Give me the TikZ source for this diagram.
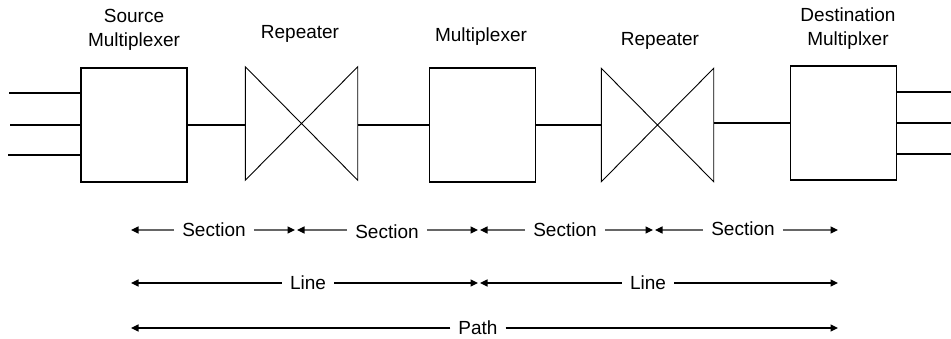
\documentclass[tikz,border=0pt]{standalone}
\usepackage{fontspec}
\setmainfont{Liberation Sans}
\usetikzlibrary{arrows.meta}
\begin{document}
\begin{tikzpicture}[x=1pt,y=-1pt,
  every node/.style={font=\fontsize{19}{24}\selectfont, inner sep=0pt},
  muxbox/.style={draw, line width=1.5pt, minimum width=106pt, minimum height=114pt},
  repbox/.style={minimum width=112pt, minimum height=113pt},
  wire/.style={line width=1.5pt},
  thinline/.style={line width=0.9pt},
  label/.style={align=center},
  span/.style={inner xsep=8pt, inner ysep=2pt},
  tip/.style={-{Triangle[length=7.5pt,width=7pt,color=black]}},
  secarrow/.style={tip, line width=1.1pt, draw=black!60},
  lenarrow/.style={tip, line width=1.1pt}]
  \useasboundingbox (0,0) rectangle (951,339);

  % equipment
  \node[muxbox] (src) at (134,125) {};
  \node[repbox] (rep1) at (301.5,123.5) {};
  \node[muxbox] (mux) at (482.5,125) {};
  \node[repbox] (rep2) at (657.5,125) {};
  \node[muxbox] (dst) at (843.5,123) {};

  % repeater bow-ties
  \foreach \r in {rep1,rep2}
    \draw[thinline] (\r.north west) -- (\r.south east) -- (\r.north east)
      -- (\r.south west) -- cycle;

  % tributaries in and out
  \coordinate (in1) at (9,93);
  \coordinate (in2) at (10,125);
  \coordinate (in3) at (8,155);
  \coordinate (out1) at (951,92);
  \coordinate (out2) at (951,123);
  \coordinate (out3) at (951,154);
  \foreach \c in {in1,in2,in3} \draw[wire] (\c) -- (\c -| src.west);
  \foreach \c in {out1,out2,out3} \draw[wire] (\c) -- (\c -| dst.east);

  % trunk connections
  \draw[wire] (src.east) -- (src.east -| rep1.west);
  \draw[wire] (rep1.east |- src.east) -- (mux.west);
  \draw[wire] (mux.east) -- (mux.east -| rep2.west);
  \draw[wire] (rep2.east |- dst.west) -- (dst.west);

  % labels
  \node[label] (lsrc) at (134,30) {Source\\Multiplexer};
  \node[label] (lrep1) at (300,34) {Repeater};
  \node[label] (lmux) at (481,37) {Multiplexer};
  \node[label] (lrep2) at (660,41) {Repeater};
  \node[label] (ldst) at (848,29) {Destination\\Multiplxer};

  % span end points
  \coordinate (s0) at (131,230);
  \coordinate (s1a) at (295,230);
  \coordinate (s1b) at (297,230);
  \coordinate (s2a) at (478,230);
  \coordinate (s2b) at (480,230);
  \coordinate (s3a) at (653,230);
  \coordinate (s3b) at (655,230);
  \coordinate (s4) at (838,230);
  \coordinate (l0) at (131,283);
  \coordinate (l1a) at (478,283);
  \coordinate (l1b) at (480,283);
  \coordinate (l2) at (838,283);
  \coordinate (p0) at (131,328);
  \coordinate (p1) at (838,328);

  % sections
  \node[span] (sec1) at (214,230) {Section};
  \node[span] (sec2) at (387,232) {Section};
  \node[span] (sec3) at (565,230) {Section};
  \node[span] (sec4) at (743,229) {Section};
  \draw[secarrow] (sec1.west |- s0) -- (s0);
  \draw[secarrow] (sec1.east |- s0) -- (s1a);
  \draw[secarrow] (sec2.west |- s0) -- (s1b);
  \draw[secarrow] (sec2.east |- s0) -- (s2a);
  \draw[secarrow] (sec3.west |- s0) -- (s2b);
  \draw[secarrow] (sec3.east |- s0) -- (s3a);
  \draw[secarrow] (sec4.west |- s0) -- (s3b);
  \draw[secarrow] (sec4.east |- s0) -- (s4);

  % lines
  \node[span] (line1) at (308,283) {Line};
  \node[span] (line2) at (648,283) {Line};
  \draw[lenarrow] (line1.west |- l0) -- (l0);
  \draw[lenarrow] (line1.east |- l0) -- (l1a);
  \draw[lenarrow] (line2.west |- l0) -- (l1b);
  \draw[lenarrow] (line2.east |- l0) -- (l2);

  % path
  \node[span] (path) at (478,328) {Path};
  \draw[lenarrow] (path.west |- p0) -- (p0);
  \draw[lenarrow] (path.east |- p0) -- (p1);
\end{tikzpicture}
\end{document}
